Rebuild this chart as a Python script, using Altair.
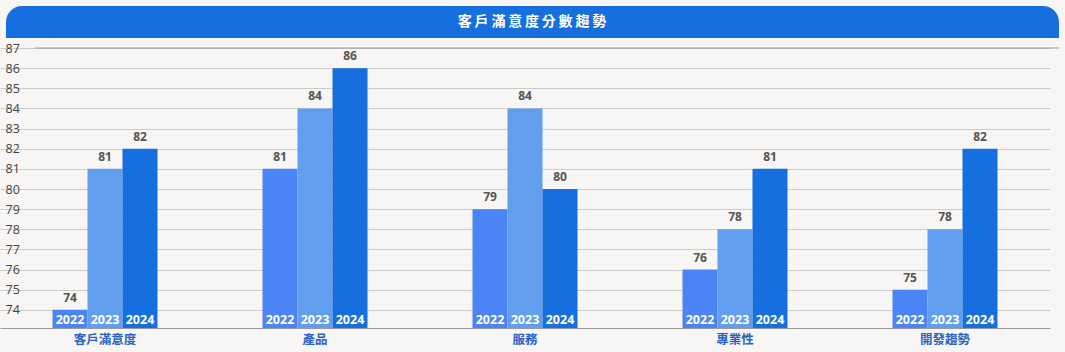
import altair as alt
import pandas as pd

categories = ["客戶滿意度", "產品", "服務", "專業性", "開發趨勢"]
years = ["2022", "2023", "2024"]
scores_2022 = [74, 81, 79, 76, 75]
scores_2023 = [81, 84, 84, 78, 78]
scores_2024 = [82, 86, 80, 81, 82]
y_ticks = list(range(74, 88))
y_min, y_max = 73.1, 87
title_text = "客戶滿意度分數趨勢"
colors = ["#4A84F5", "#619EEE", "#156FDF"]

rows = []
for ser, yr in zip([scores_2022, scores_2023, scores_2024], years):
    for c, v in zip(categories, ser):
        rows.append({"category": c, "year": yr, "score": v})
df = pd.DataFrame(rows)

W, H = 1024, 280
font = "Open Sans"
cjk = "Noto Sans CJK TC"

x_axis = alt.Axis(title=None, labelAngle=0, ticks=False, domain=True,
                  domainColor="#9a9a9a", domainWidth=1.2,
                  labelFont=cjk, labelFontSize=12.5, labelFontWeight="bold",
                  labelColor="#2a63c4", labelPadding=5, grid=False)
x_scale = alt.Scale(range=[-35, 1015], paddingInner=0.5, paddingOuter=0.25)
x_enc = alt.X("category:N", sort=categories, scale=x_scale, axis=x_axis)
xo = alt.XOffset("year:N", sort=years, scale=alt.Scale(paddingInner=0, paddingOuter=0))
y_scale = alt.Scale(domain=[y_min, y_max], nice=False, zero=False)
y_axis = alt.Axis(title=None, values=y_ticks, ticks=False, domain=False,
                  gridColor="#cccccc", gridWidth=1, labelOverlap=False,
                  labelFont=font, labelFontSize=12.5, labelColor="#444444",
                  labelFontWeight=500,
                  labelAlign="left", labelPadding=30, labelBaseline="middle")

base = alt.Chart(df)

bars = base.mark_bar(size=35).encode(
    x=x_enc, xOffset=xo,
    y=alt.Y("score:Q", scale=y_scale, axis=y_axis),
    y2=alt.Y2(datum=y_min),
    color=alt.Color("year:N", sort=years, scale=alt.Scale(domain=years, range=colors), legend=None),
)

vals = base.mark_text(dy=-5, font=font, fontSize=12, fontWeight="bold", color="#555555",
                      baseline="bottom").encode(
    x=x_enc, xOffset=xo,
    y=alt.Y("score:Q", scale=y_scale, axis=y_axis), text="score:Q")

yrs = base.mark_text(font=font, fontSize=12.5, fontWeight="bold", color="white",
                     baseline="bottom").encode(
    x=x_enc, xOffset=xo,
    y=alt.value(H - 1), text="year:N")

top_line = alt.Chart(pd.DataFrame({"v": [y_max]})).mark_rule(color="#9a9a9a", strokeWidth=1.2).encode(
    y=alt.Y("v:Q", scale=y_scale, axis=y_axis))

title_df = pd.DataFrame({"t": ["\u2009".join(title_text)]})
title_bar = alt.Chart(title_df).mark_rect(
    color="#156FDF", cornerRadiusTopLeft=16, cornerRadiusTopRight=16).encode(
    x=alt.value(-29), x2=alt.value(1024), y=alt.value(-42), y2=alt.value(-10))
title_txt = alt.Chart(title_df).mark_text(
    font=cjk, fontSize=14, fontWeight="bold", color="white", baseline="middle", align="center").encode(
    x=alt.value(497), y=alt.value(-26), text="t:N")

chart = alt.layer(bars, top_line, vals, yrs, title_bar, title_txt).properties(
    width=W, height=H,
    padding={"left": 35, "top": 48, "right": 6, "bottom": 24},
    autosize=alt.AutoSizeParams(type="none"),
    background="#F7F6F4",
).configure_view(stroke=None).resolve_scale(x="shared")

chart.save("out.html", embed_options={"renderer": "svg", "actions": False})
